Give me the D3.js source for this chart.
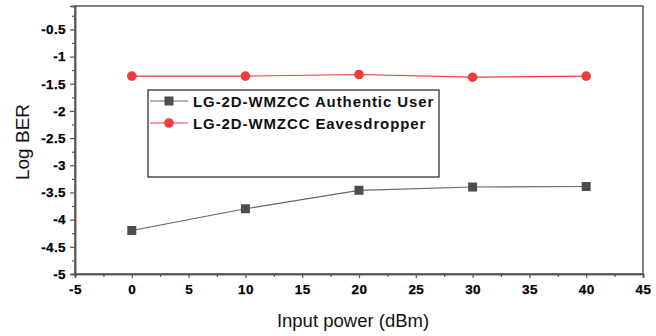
<!DOCTYPE html>
<html><head><meta charset="utf-8">
<script src="https://cdn.jsdelivr.net/npm/d3@7"></script>
<style>body{margin:0;background:#fff}svg{display:block}
.tk text{font-family:'Liberation Sans',Arial,sans-serif;font-size:13.5px;font-weight:700;fill:#000;letter-spacing:0.4px}</style>
</head><body>
<script>
const xValues = [0, 10, 20, 30, 40];
const authentic = [-4.2, -3.8, -3.46, -3.4, -3.39];
const eavesdropper = [-1.36, -1.36, -1.33, -1.38, -1.36];
const xTicks = [-5, 0, 5, 10, 15, 20, 25, 30, 35, 40, 45];
const yTicks = [-5, -4.5, -4, -3.5, -3, -2.5, -2, -1.5, -1, -0.5];
const seriesNames = ["LG-2D-WMZCC Authentic User", "LG-2D-WMZCC Eavesdropper"];

const W = 656, H = 336;
const m = {l: 75, r: 13, t: 6, b: 62};
const svg = d3.select("body").append("svg").attr("width", W).attr("height", H);
const x = d3.scaleLinear().domain([-5, 45]).range([m.l, W - m.r]);
const y = d3.scaleLinear().domain([-5, -0.07]).range([H - m.b, m.t]);
const axisColor = "#555";
const font = "'Liberation Sans', Arial, sans-serif";

// frame
svg.append("rect").attr("x", x(-5)).attr("y", y(-0.07)).attr("width", x(45) - x(-5)).attr("height", y(-5) - y(-0.07))
  .attr("fill", "none").attr("stroke", axisColor).attr("stroke-width", 1.5);

const fmt = d => String(d);
const xAxis = svg.append("g").attr("class", "tk").attr("transform", `translate(0,${y(-5)})`)
  .call(d3.axisBottom(x).tickValues(xTicks).tickSize(4).tickPadding(6).tickFormat(fmt));
const xMinor = svg.append("g").attr("transform", `translate(0,${y(-5)})`)
  .call(d3.axisBottom(x).tickValues(xTicks.slice(0, -1).map(d => d + 2.5)).tickSize(3).tickFormat(""));
const yAxis = svg.append("g").attr("class", "tk").attr("transform", `translate(${x(-5)},0)`)
  .call(d3.axisLeft(y).tickValues(yTicks).tickSize(5).tickPadding(4).tickFormat(fmt));
const yMinor = svg.append("g").attr("transform", `translate(${x(-5)},0)`)
  .call(d3.axisLeft(y).tickValues(yTicks.map(d => d + 0.25)).tickSize(3).tickFormat(""));
[xAxis, xMinor, yAxis, yMinor].forEach(g => {
  g.attr("font-family", null).attr("font-size", null).attr("font-weight", "bold");
  g.select(".domain").attr("stroke", axisColor).attr("stroke-width", 1.5);
  g.selectAll("line").attr("stroke", axisColor).attr("stroke-width", 1.2);
  g.selectAll("text").attr("fill", null).attr("stroke", "#000").attr("stroke-width", 0.25);
});

// titles
svg.append("text").attr("x", (x(-5) + x(45)) / 2 - 6).attr("y", 327).attr("text-anchor", "middle")
  .style("font-family", font).style("font-size", "18.5px").attr("fill", "#111").text("Input power (dBm)");
svg.append("text").attr("transform", `translate(29,${(y(-5) + y(-0.07)) / 2 + 2}) rotate(-90)`).attr("text-anchor", "middle")
  .style("font-family", font).style("font-size", "19px").attr("fill", "#111").text("Log BER");

const line = d3.line().x((d, i) => x(xValues[i])).y(d => y(d));
const grayCol = "#4d4d4d", redCol = "#f23c3c";
svg.append("path").datum(authentic).attr("d", line).attr("fill", "none").attr("stroke", "#666").attr("stroke-width", 1.2);
svg.append("path").datum(eavesdropper).attr("d", line).attr("fill", "none").attr("stroke", redCol).attr("stroke-width", 1.2);
svg.selectAll(".sq").data(authentic).enter().append("rect")
  .attr("x", (d, i) => x(xValues[i]) - 4.5).attr("y", d => y(d) - 4.5).attr("width", 9).attr("height", 9).attr("fill", grayCol);
svg.selectAll(".ci").data(eavesdropper).enter().append("circle")
  .attr("cx", (d, i) => x(xValues[i])).attr("cy", d => y(d)).attr("r", 4.8).attr("fill", redCol);

// legend
const lg = svg.append("g");
lg.append("rect").attr("x", 148).attr("y", 90).attr("width", 291).attr("height", 87)
  .attr("fill", "#fff").attr("stroke", "#222").attr("stroke-width", 1.2);
const rows = [{n: seriesNames[0], c: "#666", m: "sq"}, {n: seriesNames[1], c: redCol, m: "ci"}];
rows.forEach((r, i) => {
  const cy = 101 + i * 22;
  lg.append("line").attr("x1", 150).attr("x2", 188).attr("y1", cy).attr("y2", cy).attr("stroke", r.c).attr("stroke-width", 1.2);
  if (r.m === "sq") lg.append("rect").attr("x", 169 - 4.5).attr("y", cy - 4.5).attr("width", 9).attr("height", 9).attr("fill", grayCol);
  else lg.append("circle").attr("cx", 169).attr("cy", cy).attr("r", 4.8).attr("fill", redCol);
  lg.append("text").attr("x", 193).attr("y", cy + 5.5).style("font-family", font).style("font-size", "15px")
    .style("font-weight", "bold").style("letter-spacing", "0.9px").attr("fill", "#111").text(r.n);
});
</script>
</body></html>
